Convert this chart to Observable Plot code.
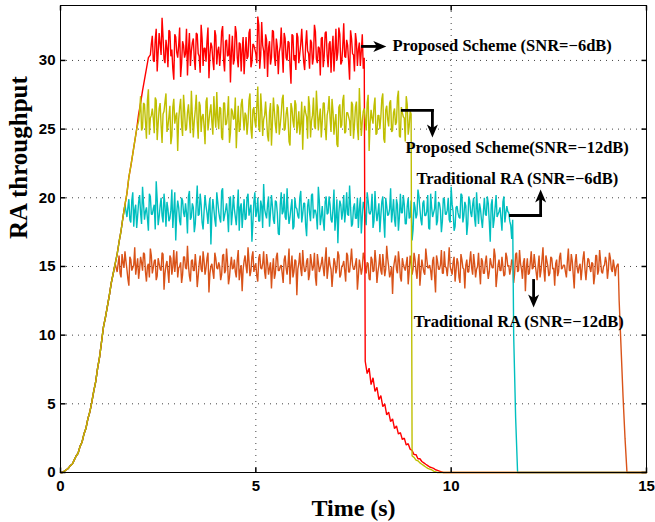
<!DOCTYPE html>
<html>
<head>
<meta charset="utf-8">
<script src="https://cdn.jsdelivr.net/npm/d3@7"></script>
<script src="https://cdn.jsdelivr.net/npm/@observablehq/plot@0.6"></script>
<style>
  html, body { margin: 0; padding: 0; background: #fff; }
</style>
</head>
<body>
<div id="chart"></div>
<script>
// ---------- data (sampled every dt seconds from t = 0) ----------
const dt = 0.05;
const tEnd = 15;

// shared start-up ramp, t = 0.00 .. 2.25
const rise = [0, 0, 0.1, 0.2, 0.3, 0.5, 0.6, 0.9, 1.2, 1.4, 1.9, 2.2, 2.8, 3.2, 3.9, 4.4, 5.1, 5.9, 6.6, 7.6,
  8.4, 9.5, 10.6, 11.3, 12.1, 12.9, 13.8, 14.5, 15.2, 15.9, 16.8, 17.6, 18.6, 19.5, 20.3, 21.5, 22.3, 23.2, 24.1, 25.0,
  26.1, 26.9, 27.8, 28.6, 29.4, 30.2];

// Proposed Scheme (SNR=-6dB): plateau t = 2.30 .. 7.75 (on-grid samples and half-step samples), decay 7.80 .. 9.80
const redPlateau = [30.4, 31.8, 29.9, 32.3, 30.6, 31.2, 33.1, 30.1, 31.5, 29.5,
  32.1, 30.8, 28.6, 31.7, 30.2, 32.4, 29.8, 31.1, 30.5, 28.9,
  32.0, 30.7, 31.6, 29.3, 31.9, 30.3, 32.6, 29.6, 30.9, 31.4,
  28.7, 31.3, 30.0, 32.2, 29.7, 31.0, 30.6, 32.5, 29.2, 31.5,
  30.4, 28.4, 31.8, 30.1, 32.0, 29.5, 31.2, 30.8, 29.0, 31.7,
  30.3, 32.3, 29.9, 31.1, 30.5, 33.2, 29.4, 32.8, 30.7, 31.9,
  28.8, 31.4, 30.2, 32.1, 29.6, 31.0, 30.6, 32.4, 29.1, 31.6,
  30.0, 31.3, 28.3, 31.8, 30.4, 32.0, 29.8, 31.2, 30.9, 29.3,
  32.2, 30.5, 31.5, 29.7, 32.6, 30.1, 31.0, 28.9, 31.7, 30.3,
  32.1, 29.5, 31.4, 30.8, 29.2, 32.3, 30.6, 31.9, 29.9, 32.7,
  30.2, 31.1, 28.6, 31.6, 30.4, 32.0, 29.6, 31.3, 30.7, 29.4];
const redHalf = [31.2, 30.0, 31.5, 29.2, 32.0, 30.4, 31.7, 29.8, 30.9, 32.2,
  30.3, 29.4, 31.9, 30.6, 31.1, 28.8, 31.4, 30.2, 32.3, 30.8,
  29.6, 31.3, 30.1, 32.0, 30.5, 29.1, 31.6, 30.9, 29.9, 32.4,
  30.4, 31.0, 29.3, 31.8, 30.7, 29.6, 32.1, 30.0, 31.4, 30.3,
  31.9, 30.6, 29.7, 32.5, 30.2, 31.3, 29.2, 31.7, 30.5, 30.1,
  32.0, 29.5, 31.2, 30.8, 29.8, 32.6, 30.4, 31.1, 29.4, 31.5,
  30.9, 29.7, 32.2, 30.3, 31.6, 29.0, 31.0, 30.6, 32.0, 30.2,
  31.4, 29.6, 31.9, 30.0, 29.3, 31.7, 30.5, 32.3, 29.9, 31.1,
  30.7, 29.4, 31.3, 30.2, 32.1, 29.8, 30.9, 31.6, 29.5, 32.0,
  30.4, 31.2, 29.1, 31.8, 30.6, 30.0, 32.4, 29.7, 31.0, 30.3,
  31.5, 29.9, 32.2, 30.5, 29.2, 31.4, 30.8, 29.6, 31.9, 30.2];
const redFall = [8.1, 7.2, 7.6, 6.4, 6.9, 5.9, 6.2, 5.3, 5.6, 4.8, 5.0, 4.2, 4.4, 3.7, 3.9, 3.2, 3.4, 2.8, 2.9, 2.4,
  2.5, 2.0, 2.1, 1.7, 1.6, 1.3, 1.3, 1.0, 1.0, 0.8, 0.7, 0.6, 0.5, 0.4, 0.35, 0.3, 0.2, 0.15, 0.1, 0.05, 0];

// Proposed Scheme (SNR=-12dB): plateau t = 2.00 .. 8.95, decay 9.00 ..
const yellowPlateau = [25.6, 27.4, 25.1, 26.8, 24.3, 27.9, 25.8, 26.5, 24.7, 27.1,
  25.4, 26.9, 24.0, 26.3, 27.6, 25.2, 26.7, 24.5, 27.2, 25.9,
  23.4, 26.6, 25.3, 27.5, 24.9, 26.2, 25.7, 27.8, 24.4, 26.4,
  25.5, 27.0, 24.8, 26.1, 23.9, 27.3, 25.6, 26.8, 24.6, 26.0,
  27.7, 25.0, 26.5, 24.2, 26.9, 25.4, 27.4, 24.7, 26.3, 25.8,
  23.6, 26.7, 25.2, 27.2, 24.9, 26.0, 25.5, 27.6, 24.3, 26.6,
  25.1, 28.1, 24.8, 26.4, 25.7, 27.0, 24.5, 26.2, 23.8, 27.3,
  25.3, 26.8, 24.6, 26.1, 27.5, 25.0, 26.6, 24.1, 26.9, 25.6,
  27.1, 24.7, 26.3, 25.4, 23.5, 26.7, 25.9, 27.4, 24.4, 26.0,
  25.2, 27.8, 24.9, 26.5, 25.5, 26.9, 24.2, 26.4, 25.8, 27.2,
  24.6, 26.1, 23.7, 26.8, 25.3, 27.5, 24.8, 26.2, 25.6, 27.0,
  24.3, 26.6, 25.1, 28.0, 24.5, 26.3, 25.7, 26.9, 23.4, 26.4,
  25.4, 27.3, 24.7, 26.0, 25.9, 27.6, 24.0, 26.7, 25.2, 27.1,
  24.9, 26.5, 25.5, 27.8, 24.4, 26.2, 25.8, 27.4, 24.6, 26.3];
const yellowHalf = [26.3, 24.9, 26.9, 25.5, 27.1, 24.6, 26.0, 25.8, 27.3, 24.2,
  26.5, 25.3, 26.1, 27.0, 24.8, 25.9, 23.9, 26.6, 25.4, 26.2,
  25.7, 27.2, 24.5, 26.4, 25.0, 26.8, 24.7, 26.0, 25.6, 27.5,
  24.3, 26.7, 25.9, 25.2, 27.0, 24.9, 26.3, 25.5, 27.4, 25.1,
  25.8, 26.6, 24.4, 26.9, 25.3, 26.1, 24.0, 26.5, 25.7, 27.3,
  25.4, 24.8, 26.8, 25.9, 26.2, 24.6, 27.1, 25.0, 26.4, 25.6,
  26.7, 25.2, 27.6, 24.5, 26.0, 25.8, 24.1, 26.9, 25.5, 26.3,
  24.7, 26.6, 25.3, 27.2, 24.9, 26.1, 25.7, 23.8, 26.5, 25.1,
  26.8, 25.4, 24.6, 27.0, 25.9, 26.2, 24.3, 26.7, 25.6, 27.3,
  25.0, 26.4, 25.8, 24.4, 26.9, 25.2, 26.0, 27.4, 24.8, 26.3,
  25.5, 23.9, 26.6, 25.1, 27.1, 24.7, 26.2, 25.9, 24.5, 26.8,
  25.3, 27.0, 24.2, 26.1, 25.6, 26.5, 24.9, 27.5, 25.4, 25.8,
  26.7, 24.6, 26.0, 25.0, 27.2, 24.3, 26.4, 25.7, 26.9, 24.8,
  26.2, 25.3, 27.3, 24.5, 26.6, 25.9, 24.1, 26.8, 25.2, 26.1];
const yellowFall = [1.2, 1.1, 0.9, 0.85, 0.7, 0.6, 0.5, 0.4, 0.3, 0.25, 0.2, 0.1, 0.05, 0];

// Traditional RA (SNR=-6dB): plateau t = 1.70 .. 11.55
const cyanPlateau = [18.6, 19.9, 18.2, 20.4, 19.1, 17.8, 19.7, 18.9, 20.8, 18.4,
  19.3, 17.6, 20.1, 18.8, 19.5, 21.2, 18.0, 19.4, 18.7, 20.3,
  17.9, 19.2, 18.5, 20.6, 19.0, 16.9, 19.8, 18.3, 20.0, 18.9,
  19.6, 17.4, 20.5, 18.6, 19.3, 18.1, 20.9, 18.8, 19.5, 17.7,
  20.2, 18.9, 19.4, 16.6, 19.9, 18.4, 20.4, 19.0, 18.2, 20.7,
  18.7, 19.6, 17.5, 20.1, 18.9, 19.2, 18.0, 20.6, 19.3, 17.8,
  19.9, 18.5, 20.3, 19.1, 16.8, 19.7, 18.6, 20.0, 18.3, 19.4,
  21.0, 18.8, 19.5, 17.9, 20.2, 18.4, 19.8, 18.9, 17.3, 20.4,
  19.0, 18.6, 20.7, 18.1, 19.3, 17.7, 20.0, 19.2, 18.5, 20.5,
  18.8, 19.6, 17.2, 19.9, 18.3, 20.3, 19.1, 18.7, 20.8, 18.0,
  19.4, 17.6, 20.1, 18.9, 19.5, 18.2, 20.6, 18.6, 16.7, 19.8,
  18.4, 20.2, 19.0, 18.8, 20.9, 17.9, 19.3, 18.5, 20.0, 19.2,
  17.4, 19.7, 18.6, 20.4, 18.9, 19.1, 17.8, 20.5, 18.3, 19.6,
  18.7, 20.1, 17.1, 19.4, 18.8, 20.7, 19.0, 18.4, 19.9, 17.6,
  20.3, 18.9, 19.5, 18.1, 20.0, 18.6, 16.9, 19.7, 18.5, 20.6,
  19.2, 18.0, 19.8, 18.7, 20.2, 17.7, 19.3, 18.9, 20.5, 18.3,
  19.6, 17.5, 20.0, 18.8, 19.1, 18.4, 20.8, 19.0, 17.9, 19.4,
  18.6, 20.3, 18.2, 19.7, 17.3, 20.1, 18.9, 19.5, 18.5, 20.4,
  18.1, 19.2, 17.8, 20.0, 18.7, 19.6, 16.8, 19.9, 18.4, 20.2,
  18.8, 19.3, 17.6, 20.1, 18.9, 19.0, 18.3, 17.0];
const cyanHalf = [19.3, 18.4, 19.8, 17.9, 19.5, 18.7, 20.2, 18.1, 19.6, 19.0,
  18.5, 20.3, 18.8, 19.2, 17.7, 19.9, 18.6, 20.0, 18.2, 19.4,
  19.7, 18.3, 19.1, 17.8, 20.4, 18.9, 19.3, 18.0, 19.8, 18.6,
  18.9, 20.1, 18.4, 19.6, 17.5, 19.5, 18.7, 20.3, 18.2, 19.0,
  19.4, 18.1, 20.0, 18.8, 19.2, 17.9, 19.7, 18.5, 20.5, 18.3,
  19.1, 18.8, 19.9, 18.0, 20.2, 18.6, 19.3, 17.6, 19.6, 18.9,
  18.4, 20.0, 18.7, 19.5, 18.2, 20.4, 19.0, 18.3, 19.8, 17.8,
  19.2, 18.5, 20.1, 18.9, 19.4, 18.1, 19.7, 17.4, 19.5, 18.8,
  20.3, 18.4, 19.0, 18.6, 19.9, 17.9, 19.3, 18.7, 20.0, 18.2,
  19.6, 18.0, 19.4, 18.9, 20.2, 18.5, 19.1, 17.7, 19.8, 18.6,
  18.3, 19.7, 18.8, 20.1, 18.4, 19.2, 17.6, 19.9, 18.9, 19.5,
  19.0, 18.2, 20.4, 18.7, 19.3, 18.1, 19.6, 18.5, 17.8, 20.0,
  18.6, 19.4, 18.0, 19.8, 18.8, 20.3, 18.3, 19.1, 18.9, 17.5,
  19.7, 18.4, 20.0, 18.7, 19.2, 18.2, 19.9, 17.9, 19.5, 18.6,
  18.9, 20.2, 18.1, 19.4, 18.5, 19.8, 17.7, 19.3, 18.8, 20.1,
  18.4, 19.6, 18.7, 19.0, 17.8, 20.3, 18.6, 19.2, 18.0, 19.7,
  19.1, 18.3, 19.9, 18.8, 20.0, 18.2, 19.5, 17.6, 19.3, 18.9,
  18.5, 20.2, 18.7, 19.4, 18.1, 19.8, 18.6, 20.0, 17.9, 19.2,
  19.6, 18.4, 19.0, 18.8, 20.1, 18.3, 19.5, 17.8, 19.3, 18.6,
  19.0, 18.5, 19.7, 18.2, 19.4, 18.9, 18.0, 18.4];
const cyanFall = [10.0, 4.0, 0];

// Traditional RA (SNR=-12dB): plateau t = 1.45 .. 14.25
const orangePlateau = [14.6, 15.8, 14.2, 15.3, 16.1, 14.8, 13.6, 15.5, 14.9, 16.4,
  15.0, 14.1, 15.7, 14.7, 15.9, 13.9, 15.2, 16.3, 14.5, 15.4,
  14.0, 15.6, 14.8, 16.0, 13.3, 15.1, 14.6, 15.8, 14.4, 16.2,
  15.3, 14.2, 15.0, 13.8, 15.7, 14.9, 16.5, 14.3, 15.4, 14.7,
  15.9, 13.5, 15.2, 14.8, 16.1, 14.4, 15.6, 13.1, 15.0, 14.6,
  16.0, 14.9, 15.3, 14.0, 15.8, 14.5, 16.3, 13.7, 15.1, 14.8,
  15.5, 14.2, 16.2, 14.7, 13.2, 15.4, 15.0, 16.4, 14.3, 15.7,
  14.6, 15.2, 13.9, 15.9, 14.8, 16.1, 14.1, 15.3, 14.9, 13.4,
  15.6, 14.5, 16.0, 14.7, 15.1, 13.8, 15.8, 14.4, 16.3, 15.0,
  14.2, 15.5, 12.9, 15.2, 14.8, 16.2, 14.6, 15.4, 14.0, 15.9,
  14.7, 16.0, 13.6, 15.3, 14.9, 15.7, 14.3, 16.4, 14.8, 15.1,
  13.5, 15.6, 14.5, 16.1, 14.2, 15.0, 15.4, 13.9, 15.8, 14.6,
  16.3, 14.8, 15.2, 13.3, 15.5, 14.4, 16.0, 14.9, 15.3, 14.1,
  15.7, 14.6, 16.2, 13.8, 15.1, 14.7, 15.9, 14.3, 16.5, 15.0,
  14.5, 13.0, 15.4, 14.8, 16.1, 14.2, 15.6, 14.9, 15.2, 13.7,
  15.8, 14.4, 16.0, 14.7, 15.3, 13.6, 15.5, 14.6, 16.3, 14.9,
  15.1, 14.0, 15.7, 13.1, 15.4, 14.8, 16.2, 14.5, 15.0, 14.3,
  16.4, 14.7, 15.3, 13.9, 15.6, 14.2, 15.9, 14.9, 13.4, 15.5,
  14.6, 16.1, 14.4, 15.2, 14.8, 16.0, 13.7, 15.4, 14.5, 15.8,
  14.1, 15.6, 14.9, 16.3, 13.5, 15.1, 14.7, 15.7, 14.3, 16.0,
  15.0, 14.4, 15.5, 13.8, 15.9, 14.6, 16.2, 14.8, 15.3, 13.2,
  15.6, 14.5, 16.1, 14.9, 15.2, 14.0, 15.8, 14.7, 16.4, 13.9,
  15.4, 14.3, 15.7, 14.8, 13.6, 15.5, 14.6, 16.0, 14.9, 15.1,
  14.2, 16.3, 14.7, 15.4, 13.4, 15.9, 14.5, 15.2, 14.8, 16.1,
  14.0, 15.6, 14.9, 15.3, 13.7, 15.8, 14.4, 16.2, 14.6, 15.0,
  15.7, 14.1, 16.0, 14.8, 15.5, 14.3, 15.1];
const orangeHalf = [15.2, 14.5, 15.9, 14.9, 15.4, 14.1, 15.7, 14.7, 15.1, 14.4,
  15.6, 14.8, 15.3, 16.0, 14.6, 15.0, 14.2, 15.8, 14.9, 15.5,
  14.3, 15.2, 14.7, 15.9, 14.5, 15.4, 13.8, 15.6, 15.0, 14.6,
  16.1, 14.9, 15.3, 14.4, 15.7, 14.8, 15.1, 13.9, 15.5, 14.7,
  15.0, 14.3, 15.8, 14.6, 15.4, 14.9, 16.0, 14.5, 15.2, 14.1,
  15.6, 14.8, 15.0, 14.4, 15.9, 14.7, 15.3, 14.2, 15.7, 14.9,
  14.6, 15.5, 14.0, 15.1, 14.8, 15.8, 14.5, 15.4, 14.7, 16.1,
  15.0, 14.3, 15.6, 14.9, 15.2, 14.6, 15.9, 14.4, 15.3, 14.8,
  14.1, 15.7, 14.7, 15.0, 14.5, 15.5, 14.9, 15.2, 13.7, 15.8,
  14.6, 15.4, 14.8, 16.0, 14.3, 15.1, 14.7, 15.6, 14.4, 15.3,
  15.0, 14.2, 15.9, 14.6, 15.2, 14.9, 15.5, 14.1, 15.7, 14.8,
  14.5, 15.3, 14.9, 15.8, 14.4, 15.1, 14.7, 16.0, 14.6, 15.4,
  15.1, 14.8, 15.6, 14.3, 15.0, 14.9, 15.7, 14.5, 15.2, 14.0,
  15.5, 14.7, 15.3, 14.6, 15.9, 14.4, 15.1, 14.8, 15.6, 14.2,
  15.0, 14.9, 15.8, 14.5, 15.4, 13.9, 15.2, 14.7, 15.7, 14.6,
  15.3, 14.8, 15.5, 14.1, 15.9, 14.6, 15.0, 14.4, 15.6, 14.9,
  14.7, 15.4, 14.3, 15.8, 14.8, 15.1, 14.5, 16.1, 14.9, 15.2,
  15.0, 14.4, 15.7, 14.7, 15.3, 13.8, 15.5, 14.8, 15.1, 14.6,
  15.4, 14.9, 15.9, 14.2, 15.0, 14.7, 15.6, 14.5, 15.3, 14.8,
  14.6, 15.2, 14.9, 15.8, 14.3, 15.5, 14.7, 15.0, 14.4, 15.7,
  15.1, 14.8, 15.4, 14.5, 16.0, 14.7, 15.2, 14.1, 15.6, 14.9,
  14.4, 15.3, 14.8, 15.9, 14.6, 15.0, 14.2, 15.5, 14.7, 15.8,
  15.0, 14.5, 15.6, 14.9, 15.2, 14.3, 15.7, 14.8, 15.1, 14.6,
  15.4, 14.7, 15.9, 14.4, 15.3, 14.9, 15.0, 14.0, 15.6, 14.8,
  14.9, 15.5, 14.6, 15.2, 14.3, 15.8, 14.7, 15.4, 14.5, 15.1,
  15.3, 14.8, 15.6, 14.6, 15.0, 14.9, 15.2];
const orangeFall = [12.5, 9.0, 5.5, 2.5, 0];

// series (drawn in this order)
const seriesNames = ["Traditional RA (SNR=−12dB)", "Traditional RA (SNR=−6dB)", "Proposed Scheme (SNR=−6dB)", "Proposed Scheme(SNR=−12dB)"];
const seriesColors = ["#d95319", "#00bfbf", "#ff0000", "#bfbf00"];
const rampEnds = [1.40, 1.65, 2.25, 1.95];
const plateaus = [orangePlateau, cyanPlateau, redPlateau, yellowPlateau];
const halves = [orangeHalf, cyanHalf, redHalf, yellowHalf];
const falls = [orangeFall, cyanFall, redFall, yellowFall];

// ticks
const xTicks = [0, 5, 10, 15];
const yTicks = [0, 5, 10, 15, 20, 25, 30];
const xGrid = [5, 10];
const yGrid = [5, 10, 15, 20, 25, 30];

// annotations (data coordinates)
const labelTexts = ["Proposed Scheme (SNR=−6dB)", "Proposed Scheme(SNR=−12dB)", "Traditional RA (SNR=−6dB)", "Traditional RA (SNR=−12dB)"];
const labelX = [8.50, 8.83, 9.11, 9.04];
const labelY = [31.09, 23.66, 21.37, 10.96];
// arrow legs: [x1, y1, x2, y2, hasHead]
const arrowLegs = [
  [7.73, 31.02, 8.34, 31.02, true],
  [8.75, 26.36, 9.52, 26.36, false],
  [9.52, 26.36, 9.52, 24.39, true],
  [11.52, 18.71, 12.29, 18.71, false],
  [12.29, 18.71, 12.29, 20.60, true],
  [12.11, 13.98, 12.11, 12.01, true]
];

// ---------- build ----------
function buildSeries(k) {
  const name = seriesNames[k];
  const pts = [];
  const ramp = rise.filter((_, i) => i * dt <= rampEnds[k] + 1e-9);
  ramp.forEach((y, i) => pts.push({t: i * dt, y, s: name}));
  const t0 = ramp.length * dt;
  plateaus[k].forEach((y, i) => {
    pts.push({t: t0 + i * dt, y, s: name});
    pts.push({t: t0 + (i + 0.5) * dt, y: halves[k][i], s: name});
  });
  const t1 = t0 + plateaus[k].length * dt;
  falls[k].forEach((y, i) => pts.push({t: t1 + i * dt, y, s: name}));
  pts.push({t: tEnd, y: 0, s: name});
  return pts;
}
const lines = seriesNames.map((_, k) =>
  Plot.line(buildSeries(k), {x: "t", y: "y", stroke: seriesColors[k], strokeWidth: 1.4, strokeLinejoin: "miter"})
);

const legs = arrowLegs.map(([x1, y1, x2, y2, head]) => ({x1, y1, x2, y2, head,
  rot: x2 > x1 ? 90 : x2 < x1 ? -90 : y2 < y1 ? 180 : 0}));
const heads = legs.filter(d => d.head);
const labels = labelTexts.map((text, i) => ({text, x: labelX[i], y: labelY[i]}));

const tickSym = {draw(ctx) { ctx.moveTo(0, 0); ctx.lineTo(0, -5); }};
const headSym = {draw(ctx) { ctx.moveTo(0, 0); ctx.lineTo(5.5, 13); ctx.lineTo(0, 9.5); ctx.lineTo(-5.5, 13); ctx.closePath(); }};

const serif = "'Liberation Serif', 'Times New Roman', serif";
const sans = "'Liberation Sans', Arial, sans-serif";

const chart = Plot.plot({
  width: 655,
  height: 522,
  marginLeft: 60,
  marginRight: 9,
  marginTop: 5,
  marginBottom: 50,
  style: {background: "#fff", fontFamily: sans, color: "#000"},
  x: {domain: [0, tEnd]},
  y: {domain: [0, 34]},
  marks: [
    Plot.ruleX(xGrid, {stroke: "#444", strokeWidth: 1, strokeDasharray: "1,5"}),
    Plot.ruleY(yGrid, {stroke: "#444", strokeWidth: 1, strokeDasharray: "1,5"}),
    ...lines,
    Plot.frame({stroke: "#000", strokeWidth: 1}),
    Plot.dot(xTicks, {x: d => d, y: 0, symbol: tickSym, stroke: "#000", fill: "none", rotate: 0}),
    Plot.dot(xTicks, {x: d => d, y: 34, symbol: tickSym, stroke: "#000", fill: "none", rotate: 180}),
    Plot.dot(yTicks, {x: 0, y: d => d, symbol: tickSym, stroke: "#000", fill: "none", rotate: 90}),
    Plot.dot(yTicks, {x: tEnd, y: d => d, symbol: tickSym, stroke: "#000", fill: "none", rotate: -90}),
    Plot.axisX(xTicks, {tickSize: 0, tickPadding: 8, fontSize: 15, fontWeight: "bold", fontFamily: sans, label: null}),
    Plot.axisY(yTicks, {tickSize: 0, tickPadding: 5, fontSize: 15, fontWeight: "bold", fontFamily: sans, label: null}),
    Plot.text(["RA throughput"], {frameAnchor: "left", dx: -41.5, rotate: -90, fontSize: 25, fontWeight: "bold", fontFamily: serif, lineAnchor: "middle"}),
    Plot.text(["Time (s)"], {frameAnchor: "bottom", dy: 35.5, fontSize: 24, fontWeight: "bold", fontFamily: serif, lineAnchor: "middle"}),
    Plot.arrow(legs.filter(d => !d.head), {x1: "x1", y1: "y1", x2: "x2", y2: "y2", headLength: 0, stroke: "#000", strokeWidth: 2.8, strokeLinecap: "square"}),
    Plot.arrow(heads, {x1: "x1", y1: "y1", x2: "x2", y2: "y2", headLength: 0, insetEnd: 6, stroke: "#000", strokeWidth: 2.8, strokeLinecap: "square"}),
    Plot.dot(heads, {x: "x2", y: "y2", symbol: headSym, fill: "#000", stroke: "none", rotate: "rot"}),
    Plot.text(labels, {x: "x", y: "y", text: "text", textAnchor: "start", lineAnchor: "middle", fontSize: 16.5, fontWeight: "bold", fontFamily: serif, fill: "#000"})
  ]
});
document.getElementById("chart").appendChild(chart);
</script>
</body>
</html>
